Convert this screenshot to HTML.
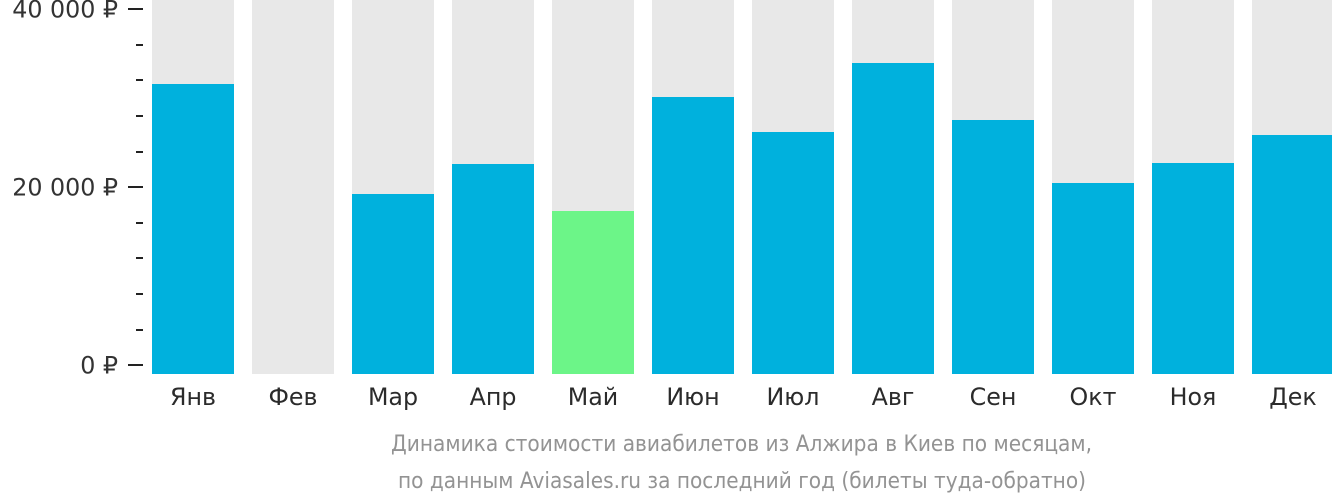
<!DOCTYPE html>
<html lang="ru">
<head>
<meta charset="utf-8">
<title>Динамика стоимости авиабилетов</title>
<style>
html,body{margin:0;padding:0;background:#fff;width:1332px;height:502px;overflow:hidden}
svg{display:block}
text{font-family:"DejaVu Sans","Liberation Sans","Noto Sans CJK SC",sans-serif}
.tick-label{font-size:24px;fill:#333}
.month{font-size:24px;fill:#2b2b2b}
.caption{font-size:22px;fill:#939393}
</style>
</head>
<body>
<svg id="chart" width="1332" height="502" viewBox="0 0 1332 502" xmlns="http://www.w3.org/2000/svg">
  <g id="tracks"></g>
  <g id="bars"></g>
  <g id="axis"></g>
  <g id="months"></g>
  <text class="caption" x="741.5" y="451" text-anchor="middle" textLength="701" lengthAdjust="spacingAndGlyphs">Динамика стоимости авиабилетов из Алжира в Киев по месяцам,</text>
  <text class="caption" x="742" y="488" text-anchor="middle" textLength="688" lengthAdjust="spacingAndGlyphs">по данным Aviasales.ru за последний год (билеты туда-обратно)</text>
</svg>
<script>
const categories = ['Янв','Фев','Мар','Апр','Май','Июн','Июл','Авг','Сен','Окт','Ноя','Дек'];
const prices = [31580,null,19240,22600,17330,30120,26200,33940,27540,20470,22720,25860];
const highlightedCategory = 'Май';
const minorTicks = [4000,8000,12000,16000,24000,28000,32000,36000];
const majorTicks = [0,20000,40000];
const majorTickLabels = ['0 ₽','20 000 ₽','40 000 ₽'];

const SVG_NS = 'http://www.w3.org/2000/svg';
const yScale = v => 365.4 - v * (356.4 / 40000);
const xScale = i => 152 + i * 100;
const BAR_WIDTH = 82;
const BAR_BOTTOM = 374;
const TEXT_STRETCH = 0.99;

function make(tag, parent) {
  const el = document.createElementNS(SVG_NS, tag);
  document.getElementById(parent).appendChild(el);
  return el;
}
function setRect(el, x, y, w, h, fill) {
  el.setAttribute('x', x);
  el.setAttribute('y', y);
  el.setAttribute('width', w);
  el.setAttribute('height', h);
  el.setAttribute('fill', fill);
}

categories.forEach((name, i) => {
  const track = make('rect', 'tracks');
  
  
  setRect(track, xScale(i), 0, BAR_WIDTH, BAR_BOTTOM, '#e8e8e8');

  if (prices[i] !== null) {
    const top = Math.round(yScale(prices[i]));
    const bar = make('rect', 'bars');
    
    
    setRect(bar, xScale(i), top, BAR_WIDTH, BAR_BOTTOM - top, name === highlightedCategory ? '#6cf588' : '#00b1dd');
  }

  const label = make('text', 'months');
  
  
  label.setAttribute('class', 'month');
  label.setAttribute('text-anchor', 'middle');
  label.setAttribute('transform', 'translate(' + (xScale(i) + BAR_WIDTH / 2) + ',405) scale(' + TEXT_STRETCH + ',1)');
  label.textContent = name;
});

minorTicks.forEach(v => {
  const tick = make('rect', 'axis');
  
  
  setRect(tick, 136, Math.round(yScale(v)) - 1, 7, 2, '#222');
});

majorTicks.forEach((v, i) => {
  const y = Math.round(yScale(v));
  const tick = make('rect', 'axis');
  
  
  setRect(tick, 128, y - 1, 15, 2, '#222');

  const label = make('text', 'axis');
  
  
  label.setAttribute('class', 'tick-label');
  label.setAttribute('text-anchor', 'end');
  label.setAttribute('transform', 'translate(118,' + (y + 8.5) + ') scale(' + TEXT_STRETCH + ',1)');
  label.textContent = majorTickLabels[i];
});
</script>
</body>
</html>
